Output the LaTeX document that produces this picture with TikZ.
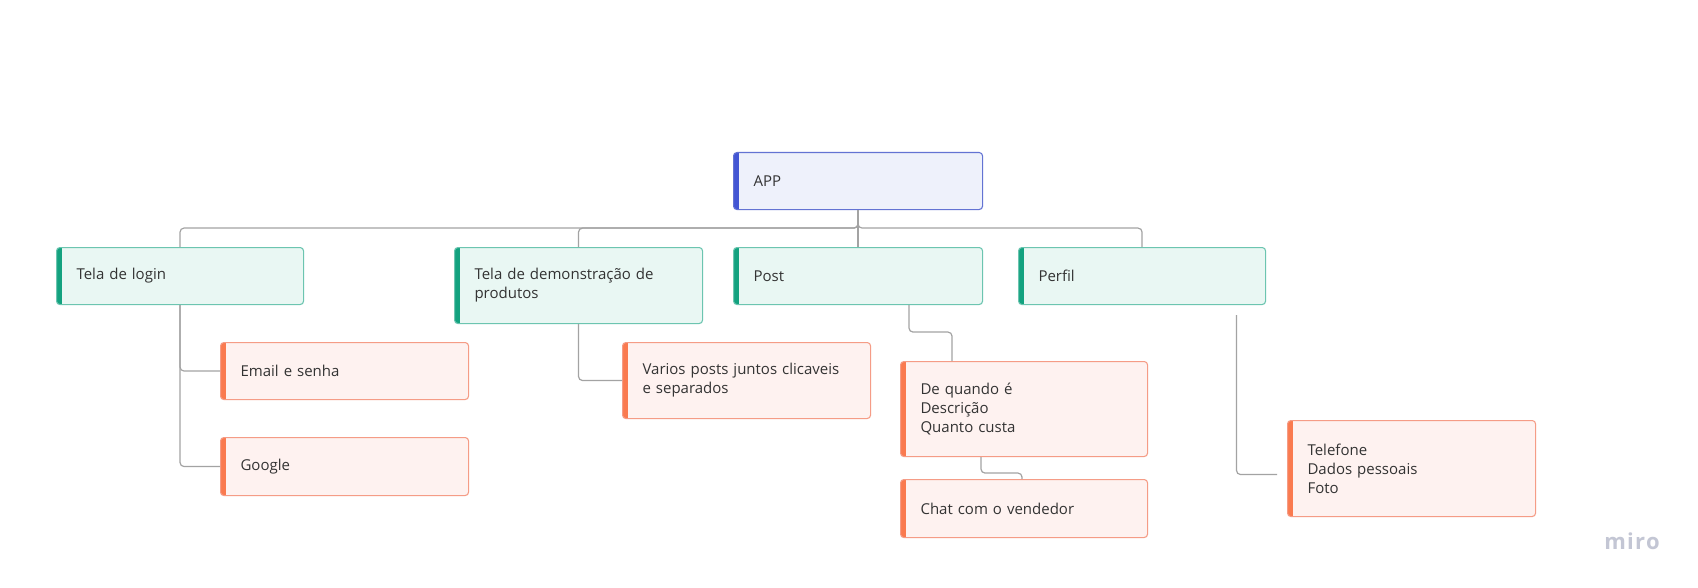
\documentclass[tikz,border=0pt]{standalone}
\usepackage{fontspec}
\setmainfont{Open Sans}
\newfontfamily\mirofont[LetterSpace=6]{Open Sans}
\usetikzlibrary{calc}
\newdimen\px \px=0.75pt
\definecolor{appfill}{HTML}{EEF1FB}
\definecolor{appborder}{HTML}{6373D3}
\definecolor{appbar}{HTML}{4255D4}
\definecolor{grfill}{HTML}{E9F7F3}
\definecolor{grborder}{HTML}{6CC5B0}
\definecolor{grbar}{HTML}{13A27F}
\definecolor{orfill}{HTML}{FEF2F0}
\definecolor{orborder}{HTML}{F59C86}
\definecolor{orbar}{HTML}{FA7A4F}
\definecolor{txt}{HTML}{333333}
\definecolor{conncol}{HTML}{A3A3A3}
\definecolor{mirogray}{HTML}{C3C6D4}
\tikzset{
  box/.style n args={3}{draw=#2, fill=#1, line width=0.8pt, rounded corners=2.5pt,
    anchor=north west, align=left, inner xsep=20\px, inner ysep=0pt,
    text=txt, font=\fontsize{11.25pt}{14.25pt}\selectfont,
    path picture={\fill[#3, sharp corners] (path picture bounding box.north west) rectangle ([xshift=5\px]path picture bounding box.south west);}},
  appbox/.style={box={appfill}{appborder}{appbar}},
  topbox/.style={box={grfill}{grborder}{grbar}},
  leafbox/.style={box={orfill}{orborder}{orbar}},
  conn/.style={draw=conncol, line width=0.9pt, rounded corners=3pt},
}
\begin{document}
\begin{tikzpicture}[x=0.75pt,y=-0.75pt]
\fill[white] (0,0) rectangle (1698,588);
\useasboundingbox (0,0) rectangle (1698,588);

\node[appbox, text width=209\px, minimum height=57\px] (app) at (733,152) {APP};

\node[topbox, text width=207\px, minimum height=57\px] (login) at (56,247) {Tela de login};
\node[topbox, text width=208\px, minimum height=76\px] (demo) at (454,247) {Tela de demonstração de\\produtos};
\node[topbox, text width=209\px, minimum height=57\px] (post) at (733,247) {Post};
\node[topbox, text width=207\px, minimum height=57\px] (perfil) at (1018,247) {Perfil};

\node[leafbox, text width=208\px, minimum height=57\px] (email) at (220,342) {Email e senha};
\node[leafbox, text width=208\px, minimum height=58\px] (google) at (220,437) {Google};
\node[leafbox, text width=208\px, minimum height=76\px] (varios) at (622,342) {Varios posts juntos clicaveis\\e separados};
\node[leafbox, text width=207\px, minimum height=95\px] (dequando) at (900,361) {De quando é\\Descrição\\Quanto custa};
\node[leafbox, text width=207\px, minimum height=58\px] (chat) at (900,479) {Chat com o vendedor};
\node[leafbox, text width=208\px, minimum height=96\px] (telefone) at (1287,420) {Telefone\\Dados pessoais\\Foto};

\draw[conn] (app.south) -- ++(0,18) -| (login.north);
\draw[conn] (app.south) -- ++(0,18) -| (demo.north);
\draw[conn] (app.south) -- (post.north);
\draw[conn] (app.south) -- ++(0,18) -| (perfil.north);

\draw[conn] (login.south) |- (email.west);
\draw[conn] (login.south) |- (google.west);
\draw[conn] (demo.south) |- (varios.west);
\draw[conn] ($(post.south west)+(176,0)$) -- ++(0,27) -| ($(dequando.north west)+(52,0)$);
\draw[conn] ($(dequando.south west)+(81,0)$) -- ++(0,16) -| ($(chat.north west)+(122,0)$);
\draw[conn] ($(perfil.south west)+(218.5,10)$) |- ($(telefone.west)+(-10,6)$);

\node[text=mirogray, font=\mirofont\bfseries\fontsize{16.5pt}{18pt}\selectfont] (miro) at (1632,541) {miro};
\end{tikzpicture}
\end{document}
